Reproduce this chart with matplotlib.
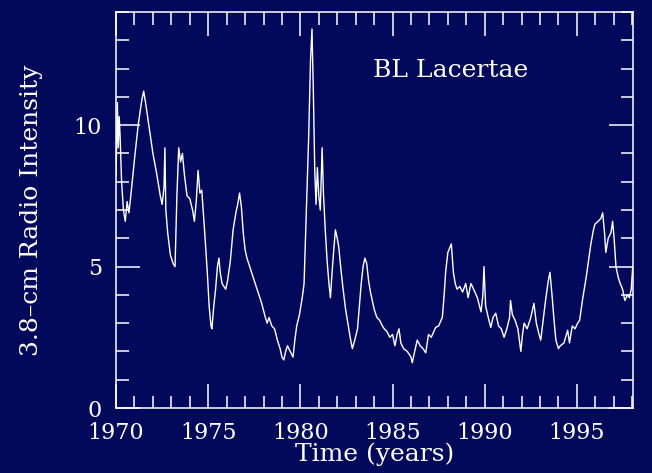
import numpy as np
import matplotlib
matplotlib.use("Agg")
import matplotlib.pyplot as plt
from matplotlib.ticker import MultipleLocator

# BL Lacertae 3.8-cm light curve
years = [
    1970.0, 1970.07, 1970.12, 1970.17, 1970.22, 1970.3, 1970.4, 1970.5, 1970.6, 1970.7,
    1970.8, 1971.0, 1971.2, 1971.4, 1971.5, 1971.6, 1971.8, 1972.0, 1972.2, 1972.4,
    1972.5, 1972.6, 1972.65, 1972.7, 1972.8, 1972.95, 1973.1, 1973.2, 1973.3, 1973.4,
    1973.5, 1973.6, 1973.7, 1973.85, 1974.0, 1974.15, 1974.25, 1974.35, 1974.45, 1974.55,
    1974.65, 1974.8, 1974.95, 1975.05, 1975.15, 1975.2, 1975.3, 1975.4, 1975.5, 1975.58,
    1975.65, 1975.75, 1975.85, 1975.95, 1976.05, 1976.2, 1976.35, 1976.5, 1976.6, 1976.7,
    1976.8, 1976.9, 1977.0, 1977.1, 1977.3, 1977.5, 1977.7, 1977.9, 1978.1, 1978.2,
    1978.3, 1978.45, 1978.6, 1978.75, 1978.9, 1979.0, 1979.1, 1979.2, 1979.3, 1979.45,
    1979.6, 1979.7, 1979.8, 1979.95, 1980.1, 1980.2, 1980.3, 1980.4, 1980.45, 1980.55,
    1980.63, 1980.7, 1980.78, 1980.85, 1980.92, 1981.0, 1981.08, 1981.18, 1981.25, 1981.35,
    1981.45, 1981.55, 1981.63, 1981.72, 1981.8, 1981.9, 1982.0, 1982.08, 1982.2, 1982.3,
    1982.45, 1982.55, 1982.7, 1982.82, 1982.95, 1983.1, 1983.2, 1983.3, 1983.4, 1983.5,
    1983.6, 1983.7, 1983.8, 1983.9, 1984.0, 1984.15, 1984.3, 1984.45, 1984.55, 1984.7,
    1984.85, 1985.0, 1985.13, 1985.25, 1985.35, 1985.45, 1985.6, 1985.8, 1986.0, 1986.07,
    1986.2, 1986.34, 1986.5, 1986.65, 1986.8, 1986.95, 1987.1, 1987.34, 1987.5, 1987.7,
    1987.8, 1987.88, 1988.0, 1988.19, 1988.3, 1988.4, 1988.5, 1988.65, 1988.8, 1988.97,
    1989.1, 1989.25, 1989.4, 1989.6, 1989.8, 1989.9, 1989.96, 1990.05, 1990.23, 1990.33,
    1990.45, 1990.6, 1990.75, 1990.9, 1991.05, 1991.2, 1991.35, 1991.4, 1991.5, 1991.65,
    1991.8, 1991.96, 1992.05, 1992.14, 1992.3, 1992.5, 1992.67, 1992.8, 1992.95, 1993.04,
    1993.15, 1993.3, 1993.45, 1993.54, 1993.65, 1993.75, 1993.86, 1994.0, 1994.1, 1994.3,
    1994.5, 1994.6, 1994.75, 1994.9, 1995.04, 1995.15, 1995.3, 1995.5, 1995.65, 1995.76,
    1995.9, 1995.98, 1996.15, 1996.3, 1996.4, 1996.5, 1996.57, 1996.7, 1996.85, 1996.94,
    1997.02, 1997.12, 1997.25, 1997.35, 1997.48, 1997.6, 1997.75, 1997.85, 1997.95, 1998.03,
]
intensity = [
    8.2, 10.8, 9.2, 10.3, 9.6, 8.0, 7.0, 6.6, 7.3, 6.9,
    7.5, 8.8, 10.0, 10.9, 11.2, 10.8, 9.9, 9.0, 8.3, 7.5,
    7.2, 7.8, 9.2, 7.0, 6.2, 5.4, 5.1, 5.0, 7.5, 9.2,
    8.7, 9.0, 8.3, 7.5, 7.4, 7.0, 6.6, 7.3, 8.4, 7.6,
    7.7, 6.3, 4.8, 3.6, 2.9, 2.8, 3.6, 4.2, 5.0, 5.3,
    4.8, 4.4, 4.3, 4.2, 4.5, 5.2, 6.3, 6.9, 7.2, 7.6,
    7.1, 6.2, 5.6, 5.3, 4.9, 4.5, 4.1, 3.7, 3.2, 3.0,
    3.2, 2.9, 2.8, 2.4, 2.1, 1.8, 1.7, 2.0, 2.2, 2.0,
    1.8, 2.4, 2.9, 3.3, 3.9, 4.4, 6.5, 8.5, 9.6, 12.3,
    13.4, 11.3, 8.4, 7.2, 8.5, 7.5, 7.0, 9.2, 7.6, 6.3,
    5.2, 4.4, 3.9, 4.8, 5.5, 6.3, 6.0, 5.7, 4.9, 4.3,
    3.5, 3.1, 2.5, 2.1, 2.4, 2.8, 3.6, 4.4, 5.0, 5.3,
    5.1, 4.5, 4.1, 3.8, 3.5, 3.2, 3.1, 2.9, 2.8, 2.7,
    2.5, 2.6, 2.2, 2.6, 2.8, 2.3, 2.1, 2.0, 1.8, 1.6,
    2.0, 2.4, 2.2, 2.1, 1.95, 2.6, 2.5, 2.85, 2.9, 3.2,
    4.0, 4.8, 5.5, 5.8, 4.8, 4.4, 4.2, 4.3, 4.1, 4.4,
    3.9, 4.4, 4.2, 3.9, 3.4, 4.0, 5.0, 3.6, 3.1, 2.85,
    3.2, 3.35, 2.9, 2.8, 2.5, 2.8, 3.2, 3.8, 3.3, 3.1,
    2.8, 2.0, 2.6, 3.0, 2.8, 3.2, 3.7, 3.0, 2.6, 2.4,
    3.0, 3.8, 4.5, 4.8, 4.0, 3.2, 2.4, 2.1, 2.2, 2.3,
    2.75, 2.3, 2.9, 2.8, 3.0, 3.1, 3.8, 4.6, 5.3, 5.8,
    6.3, 6.5, 6.6, 6.7, 6.9, 6.2, 5.5, 6.0, 6.2, 6.6,
    6.0, 5.0, 4.6, 4.4, 4.2, 3.8, 4.0, 3.9, 4.2, 5.0,
]

bg = '#02085a'
fg = 'white'

plt.rcParams['font.family'] = 'DejaVu Serif'

fig = plt.figure(figsize=(6.52, 4.73), dpi=100, facecolor=bg)
ax = fig.add_axes([0.178, 0.1374, 0.793, 0.8372], facecolor=bg)

ax.plot(years, intensity, color=fg, lw=1.0)

ax.set_xlim(1970, 1998.05)
ax.set_ylim(0, 14)
ax.xaxis.set_major_locator(MultipleLocator(5))
ax.xaxis.set_minor_locator(MultipleLocator(1))
ax.yaxis.set_major_locator(MultipleLocator(5))
ax.yaxis.set_minor_locator(MultipleLocator(1))

ax.tick_params(which='both', direction='in', top=True, right=True,
               colors=fg, width=1.1, labelsize=16, pad=10)
ax.tick_params(which='major', length=17.5)
ax.tick_params(which='minor', length=9)

for s in ax.spines.values():
    s.set_color(fg)
    s.set_linewidth(1.1)

ax.set_xlabel('Time (years)', color=fg, fontsize=18, labelpad=-1)
ax.set_ylabel('3.8\u2013cm Radio Intensity', color=fg, fontsize=18, labelpad=22)

ax.text(0.497, 0.853, 'BL Lacertae', transform=ax.transAxes, color=fg,
        fontsize=18, ha='left', va='center')

fig.savefig('out.png', dpi=100, facecolor=bg)
